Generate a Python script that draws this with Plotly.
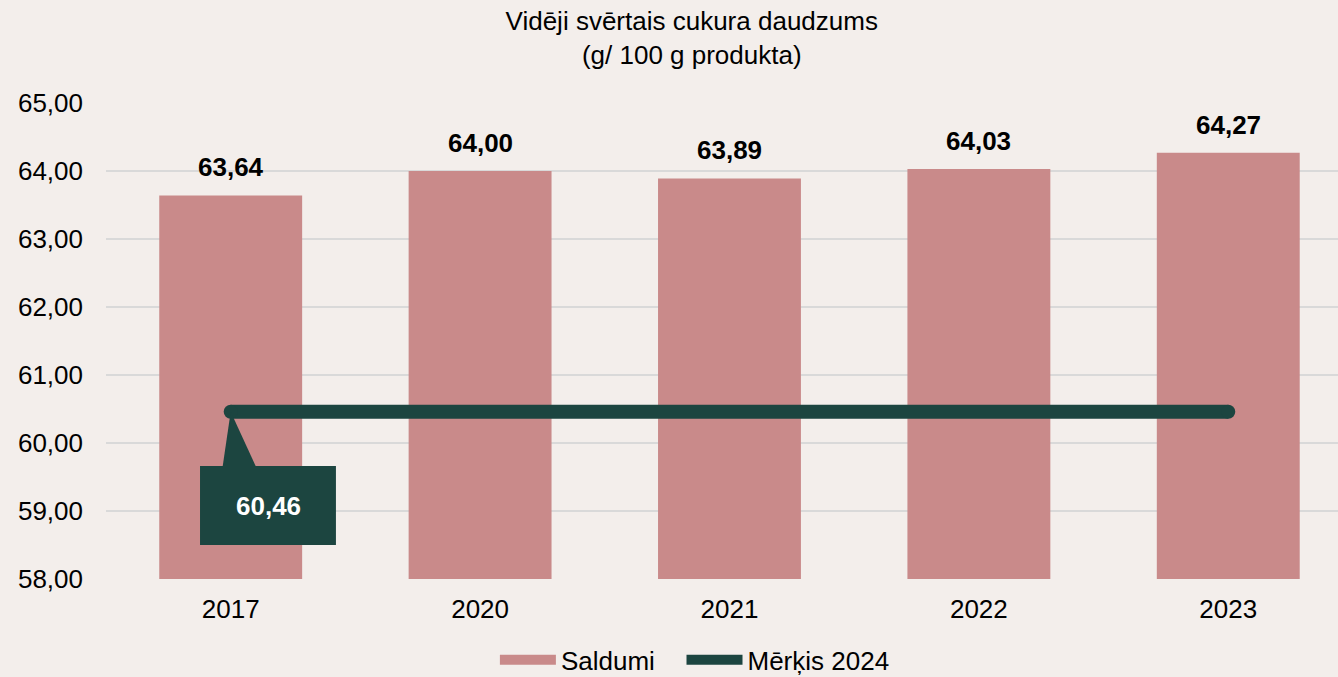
import plotly.graph_objects as go

years = ["2017", "2020", "2021", "2022", "2023"]
saldumi = [63.64, 64.00, 63.89, 64.03, 64.27]
target_value = 60.46
target = [target_value] * len(years)

BAR = "#C98A8A"
GREEN = "#1C4540"
BG = "#F3EEEB"
FONT = "Liberation Sans, Arial, sans-serif"
FS = 26

xs = list(range(len(years)))
fig = go.Figure()
fig.add_trace(go.Bar(
    x=xs, y=saldumi, name="Saldumi", showlegend=False,
    marker=dict(color=BAR, line=dict(width=0)), width=0.573,
))
# legend proxy for bars (wide rectangle swatch)
fig.add_trace(go.Scatter(
    x=[None], y=[None], name="Saldumi&nbsp;&nbsp;&nbsp;", mode="lines",
    line=dict(color=BAR, width=13),
))
fig.add_trace(go.Scatter(
    x=xs, y=target, name="Mērķis 2024", mode="lines",
    line=dict(color=GREEN, width=14),
))
fig.add_trace(go.Scatter(
    x=[xs[0], xs[-1]], y=[target[0], target[-1]], mode="markers",
    marker=dict(color=GREEN, size=14), showlegend=False, hoverinfo="skip",
))

for x, v in zip(xs, saldumi):
    fig.add_annotation(x=x, y=v, xref="x", yref="y", text=f"<b>{v:.2f}</b>".replace(".", ","),
                       showarrow=False, yanchor="bottom", yshift=11,
                       font=dict(family=FONT, size=FS, color="#000000"))

# callout for first target value
x0, y0 = 0, target[0]
fig.add_shape(type="path", xref="x", yref="y",
              path=f"M {x0} {y0} L {x0-0.032} {y0-0.80} L {x0+0.10} {y0-0.80} Z",
              fillcolor=GREEN, line=dict(width=0), layer="above")
fig.add_shape(type="rect", xref="x", yref="y",
              x0=x0 - 0.123, x1=x0 + 0.422, y0=y0 - 1.96, y1=y0 - 0.80,
              fillcolor=GREEN, line=dict(width=0), layer="above")
fig.add_annotation(x=x0 + 0.15, y=y0 - 1.38, xref="x", yref="y",
                   text=f"<b>{target_value:.2f}</b>".replace(".", ","), showarrow=False,
                   font=dict(family=FONT, size=FS, color="white"))

fig.update_layout(
    width=1338, height=677,
    paper_bgcolor=BG, plot_bgcolor=BG,
    margin=dict(l=106, r=0, t=103, b=98, autoexpand=False),
    separators=",.",
    title=dict(text="Vidēji svērtais cukura daudzums<br>(g/ 100 g produkta)",
               x=0.517, xanchor="center", y=0.955, yanchor="top",
               font=dict(family=FONT, size=FS, color="#000000")),
    xaxis=dict(range=[-0.5, 4.44], tickmode="array", tickvals=xs,
               ticktext=years, showgrid=False, zeroline=False, showline=False,
               tickfont=dict(family=FONT, size=FS, color="#000000"), ticks="",
               ticklabelstandoff=12),
    yaxis=dict(range=[58, 65], dtick=1, tickformat=".2f", showgrid=True,
               gridcolor="#D9D9D9", gridwidth=2, zeroline=False, showline=False,
               tickfont=dict(family=FONT, size=FS, color="#000000"), ticks="",
               ticklabelstandoff=22),
    legend=dict(orientation="h", x=0.478, xanchor="center", y=-0.17, yanchor="middle",
                font=dict(family=FONT, size=FS, color="#000000"), bgcolor="rgba(0,0,0,0)",
                itemwidth=56),
    showlegend=True,
)

fig.write_html("out.html", config={"displayModeBar": False},
               post_script="document.body.style.margin='0';")
